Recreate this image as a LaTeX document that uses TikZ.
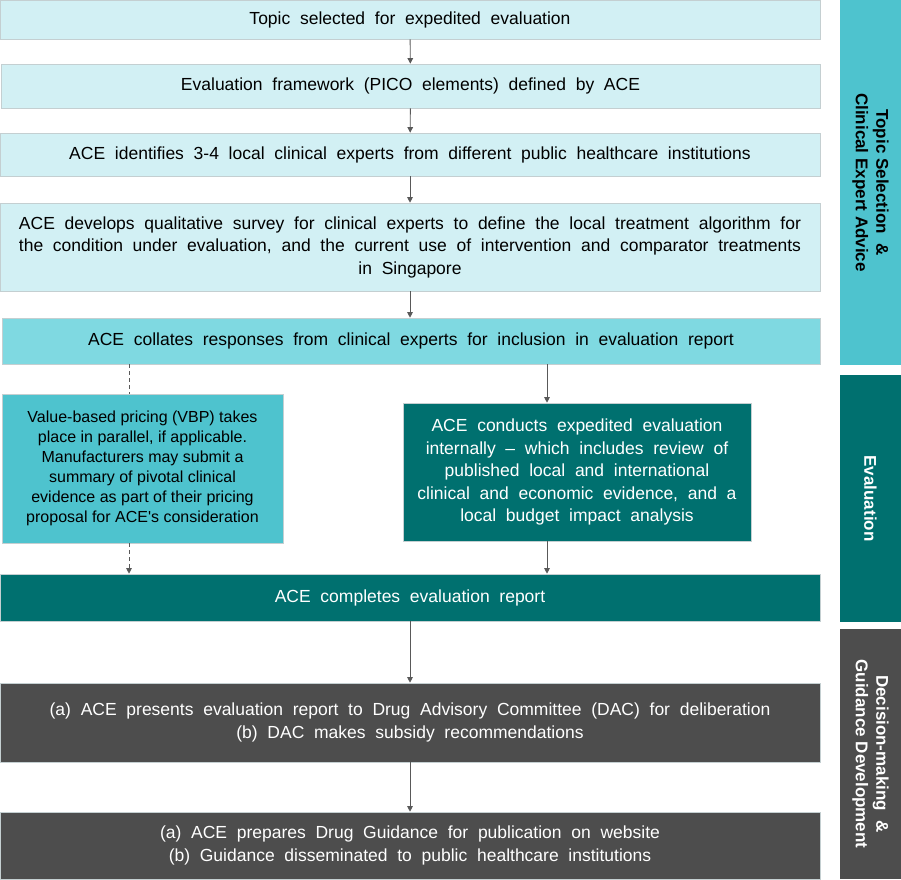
\documentclass[tikz,border=0pt]{standalone}
\usepackage{fontspec}
\setmainfont[WordSpace=2]{Liberation Sans}
\newfontfamily\vbpfont[WordSpace=1.3]{Liberation Sans}
\newfontfamily\barfont{Liberation Sans}
\usepackage{xcolor}
\usetikzlibrary{arrows.meta}
\definecolor{paleCyan}{HTML}{D2F0F4}
\definecolor{midCyan}{HTML}{7FD9E1}
\definecolor{deepCyan}{HTML}{4EC3CE}
\definecolor{darkTeal}{HTML}{00706F}
\definecolor{darkGrey}{HTML}{4D4D4D}
\definecolor{edgeGrey}{HTML}{C4CFD1}
\definecolor{arrowGrey}{HTML}{595959}

\tikzset{
  stage/.style={rectangle, draw=edgeGrey, line width=0.6pt, inner sep=0pt, align=center,
    font=\fontsize{17.5}{22.5}\selectfont},
  arr/.style={draw=arrowGrey, line width=0.9pt, -{Triangle[width=5.5pt,length=5.5pt]}},
  dasharr/.style={arr, dashed, dash pattern=on 4pt off 3pt},
  bar/.style={rectangle, inner sep=0pt, minimum width=61pt},
  bartext/.style={rotate=-90, align=center, font=\barfont\fontsize{17}{20.5}\selectfont\bfseries}
}

\begin{document}
\begin{tikzpicture}[x=1pt,y=-1pt]
\useasboundingbox (0,0) rectangle (901,879);
\node[stage, fill=paleCyan, minimum width=820, minimum height=39] (topic) at (410,19.5)
  {Topic selected for expedited evaluation};
\node[stage, fill=paleCyan, minimum width=819, minimum height=44] (frame) at (410.5,86)
  {Evaluation framework (PICO elements) defined by ACE};
\node[stage, fill=paleCyan, minimum width=820, minimum height=43] (experts) at (410,154.5)
  {ACE identifies 3-4 local clinical experts from different public healthcare institutions};
\node[stage, fill=paleCyan, minimum width=820, minimum height=88] (survey) at (410,247)
  {ACE develops qualitative survey for clinical experts to define the local treatment algorithm for\\
   the condition under evaluation, and the current use of intervention and comparator treatments\\
   in Singapore};
\node[stage, fill=midCyan, minimum width=818, minimum height=46] (collates) at (411,341)
  {ACE collates responses from clinical experts for inclusion in evaluation report};
\node[stage, fill=deepCyan, minimum width=281, minimum height=149,
      font=\vbpfont\fontsize{16}{20}\selectfont] (vbp) at (142.5,468.5)
  {Value-based pricing (VBP) takes\\ place in parallel, if applicable.\\ Manufacturers may submit a\\
   summary of pivotal clinical\\ evidence as part of their pricing\\ proposal for ACE's consideration};
\node[stage, fill=darkTeal, text=white, minimum width=348, minimum height=138] (conducts) at (577,472)
  {ACE conducts expedited evaluation\\ internally -- which includes review of\\ published local and international\\
   clinical and economic evidence, and a\\ local budget impact analysis};
\node[stage, fill=darkTeal, text=white, minimum width=820, minimum height=47] (completes) at (410,597.5)
  {ACE completes evaluation report};
\node[stage, fill=darkGrey, text=white, minimum width=820, minimum height=79] (dac) at (410,722.5)
  {(a) ACE presents evaluation report to Drug Advisory Committee (DAC) for deliberation\\
   (b) DAC makes subsidy recommendations};
\node[stage, fill=darkGrey, text=white, minimum width=820, minimum height=67] (guide) at (410,845.5)
  {(a) ACE prepares Drug Guidance for publication on website\\
   (b) Guidance disseminated to public healthcare institutions};

% phase bars on the right
\node[bar, fill=deepCyan, minimum height=365] (topicbar) at (870.5,182.5) {};
\node[bartext] at (topicbar) {Topic Selection\ \ \&\\ Clinical Expert Advice};
\node[bar, fill=darkTeal, minimum height=247] (evalbar) at (870.5,498.5) {};
\node[bartext, text=white] at (evalbar) {Evaluation};
\node[bar, fill=darkGrey, minimum height=250] (decbar) at (870.5,754) {};
\node[bartext, text=white] at (decbar) {Decision-making\ \ \&\\ Guidance Development};

% connectors
\coordinate (lx) at (129,0);
\coordinate (rx) at (547,0);
\draw[arr] (topic) -- (frame);
\draw[arr] (frame) -- (experts);
\draw[arr] (experts) -- (survey);
\draw[arr] (survey) -- (collates.north -| survey.south);
\draw[dasharr, -] (collates.south -| lx) -- (vbp.north -| lx);
\draw[dasharr] (vbp.south -| lx) -- (completes.north -| lx);
\draw[arr] (collates.south -| rx) -- (conducts.north -| rx);
\draw[arr] (conducts.south -| rx) -- (completes.north -| rx);
\draw[arr] (completes) -- (dac);
\draw[arr] (dac) -- (guide);
\end{tikzpicture}
\end{document}
